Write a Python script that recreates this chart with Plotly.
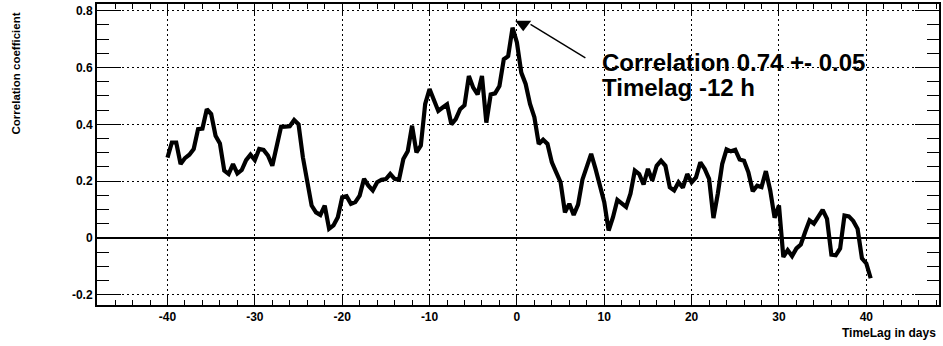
import numpy as np
import plotly.graph_objects as go

# Cross-correlation coefficient as a function of time lag (days), 12 h steps
lag_start, lag_stop, lag_step = -40.0, 40.5, 0.5
lags = np.arange(lag_start, lag_stop + lag_step / 2, lag_step)
corr = [
    0.283, 0.336, 0.336, 0.260, 0.281, 0.293, 0.313, 0.383, 0.385, 0.453,
    0.436, 0.360, 0.333, 0.237, 0.225, 0.260, 0.227, 0.239, 0.274, 0.293,
    0.274, 0.313, 0.310, 0.290, 0.254, 0.319, 0.391, 0.392, 0.393, 0.415,
    0.400, 0.284, 0.202, 0.114, 0.090, 0.081, 0.114, 0.032, 0.044, 0.073,
    0.143, 0.147, 0.120, 0.126, 0.149, 0.208, 0.184, 0.167, 0.196, 0.205,
    0.207, 0.225, 0.208, 0.205, 0.278, 0.305, 0.395, 0.301, 0.325, 0.472,
    0.524, 0.489, 0.447, 0.459, 0.470, 0.400, 0.418, 0.453, 0.467, 0.570,
    0.529, 0.505, 0.570, 0.406, 0.505, 0.509, 0.535, 0.629, 0.640, 0.740,
    0.688, 0.582, 0.542, 0.472, 0.425, 0.331, 0.346, 0.331, 0.266, 0.231,
    0.196, 0.090, 0.120, 0.081, 0.117, 0.205, 0.248, 0.296, 0.243, 0.184,
    0.126, 0.026, 0.073, 0.134, 0.122, 0.109, 0.156, 0.237, 0.225, 0.188,
    0.243, 0.202, 0.254, 0.272, 0.254, 0.178, 0.167, 0.196, 0.177, 0.225,
    0.196, 0.213, 0.266, 0.243, 0.208, 0.070, 0.156, 0.260, 0.312, 0.305,
    0.310, 0.276, 0.272, 0.231, 0.164, 0.184, 0.179, 0.235, 0.167, 0.071,
    0.114, -0.067, -0.043, -0.064, -0.037, -0.023, 0.021, 0.062, 0.050, 0.073,
    0.099, 0.067, -0.059, -0.061, -0.037, 0.079, 0.076, 0.060, 0.032, -0.072,
    -0.090, -0.142,
]

x_tick_vals = [-40, -30, -20, -10, 0, 10, 20, 30, 40]
x_tick_text = ["-40", "-30", "-20", "-10", "0", "10", "20", "30", "40"]
y_tick_vals = [-0.2, 0, 0.2, 0.4, 0.6, 0.8]
y_tick_text = ["-0.2", "0", "0.2", "0.4", "0.6", "0.8"]

# Best lag and its correlation
peak_lag = -0.5
peak_corr = 0.74
peak_err = 0.05
peak_hours = -12

FONT = "Liberation Sans"

fig = go.Figure()
fig.add_trace(go.Scatter(
    x=lags, y=corr, mode="lines",
    line=dict(color="black", width=4.2),
    showlegend=False, hoverinfo="skip",
))

# Marker pointing at the peak, with a leader line to the label
fig.add_trace(go.Scatter(
    x=[peak_lag + 1.22], y=[peak_corr + 0.012], mode="markers",
    marker=dict(symbol="triangle-down", size=14, color="black"),
    showlegend=False, hoverinfo="skip",
))
fig.add_shape(type="line", xref="x", yref="y",
              x0=7.84, y0=0.634, x1=1.56, y1=0.752,
              line=dict(color="black", width=1.4))

fig.add_annotation(x=9.55, y=0.616, xref="x", yref="y",
                   text=f"Correlation {peak_corr:.2f} +- {peak_err:.2f}",
                   showarrow=False, xanchor="left", yanchor="middle",
                   font=dict(family=FONT, size=24, color="black", weight="bold"))
fig.add_annotation(x=9.55, y=0.528, xref="x", yref="y",
                   text=f"Timelag {peak_hours} h",
                   showarrow=False, xanchor="left", yanchor="middle",
                   font=dict(family=FONT, size=24, color="black", weight="bold"))

# Axis titles (ROOT style: at the far ends of the axes)
fig.add_annotation(x=-0.0966, y=0.768, xref="paper", yref="paper",
                   text="Correlation coefficient", textangle=-90,
                   showarrow=False, xanchor="center", yanchor="middle",
                   font=dict(family=FONT, size=11.5, color="black", weight="bold"))
fig.add_annotation(x=0.9988, y=-0.093, xref="paper", yref="paper",
                   text="TimeLag in days",
                   showarrow=False, xanchor="right", yanchor="middle",
                   font=dict(family=FONT, size=12, color="black", weight="bold"))

axis_common = dict(
    showline=True, linecolor="black", linewidth=2, mirror="allticks",
    ticks="inside", tickcolor="black", tickwidth=1,
    showgrid=True, gridcolor="black", gridwidth=1, griddash="2px,3px",
    tickfont=dict(family=FONT, size=12, color="black", weight="bold"),
)

fig.update_xaxes(
    **axis_common,
    range=[-48.07, 48.32],
    tickmode="array", tickvals=x_tick_vals, ticktext=x_tick_text, ticklen=10,
    minor=dict(dtick=2, tick0=0, ticks="inside", ticklen=5, tickcolor="black",
               tickwidth=1, showgrid=False),
    zeroline=False,
)
fig.update_yaxes(
    **axis_common,
    range=[-0.2361, 0.8235],
    tickmode="array", tickvals=y_tick_vals, ticktext=y_tick_text, ticklen=24,
    minor=dict(dtick=0.05, tick0=0, ticks="inside", ticklen=12, tickcolor="black",
               tickwidth=1, showgrid=False),
    zeroline=True, zerolinecolor="black", zerolinewidth=1.5,
)

fig.update_layout(
    width=943, height=346,
    margin=dict(l=97, r=2, t=3, b=41),
    paper_bgcolor="white", plot_bgcolor="white",
    font=dict(family=FONT, color="black"),
)

fig.write_html("out.html")
